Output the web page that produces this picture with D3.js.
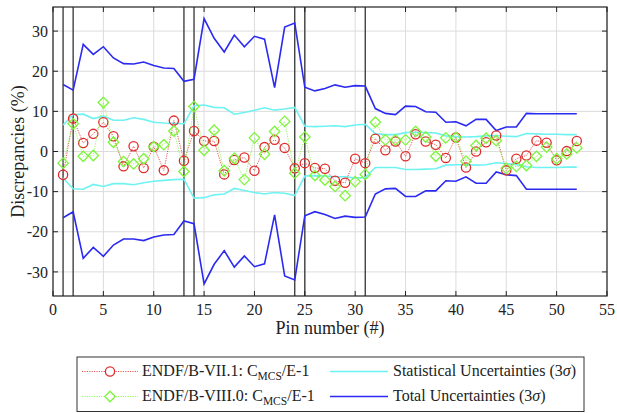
<!DOCTYPE html>
<meta charset="utf-8">
<head>
    <script src="https://d3js.org/d3.v7.min.js"></script>
    <style>
        body { margin: 0; background: #fff; }
        svg text { font-family: 'Liberation Serif', 'DejaVu Serif', 'Times New Roman', Times, serif; fill: #222; }
        .grid line { stroke: #dcdcdc; stroke-width: 1; }
    </style>
</head>
<body>
<div id="my_dataviz"></div>
<script>

    // pin numbers and section boundaries
    var pins = d3.range(1, 53);
    var sectionPins = [1, 2, 13, 14, 24, 25, 31];
    var xTicks = [0, 5, 10, 15, 20, 25, 30, 35, 40, 45, 50, 55];
    var yTicks = [-30, -20, -10, 0, 10, 20, 30];

    // ENDF/B-VII.1: C_MCS/E-1 (%)
    var endf71 = [-5.8, 8.2, 2.1, 4.4, 7.3, 3.8, -3.7, 1.3, -4.1, 1.2,
        -4.7, 7.7, -2.3, 5.1, 2.6, 2.6, -5.7, -2.1, -1.5, -4.8,
        1.1, 2.9, 0.9, -4.2, -2.9, -4.1, -4.3, -7.3, -7.8, -1.8,
        -2.9, 3.2, 0.3, 2.5, -1.2, 4.3, 2.5, 1.7, -1.6, 3.5,
        -4.0, 0.0, 2.3, 4.0, -4.7, -1.8, -1.0, 2.7, 2.2, -2.2,
        0.1, 2.6];

    // ENDF/B-VIII.0: C_MCS/E-1 (%)
    var endf80 = [-2.9, 6.9, -1.2, -1.0, 12.2, 2.3, -2.5, -3.1, -1.8, 1.2,
        1.7, 5.1, -5.0, 11.2, 0.3, 5.3, -4.8, -1.7, -7.0, 3.4,
        -0.7, 5.0, 7.5, -5.4, 3.6, -6.0, -7.1, -8.7, -11.0, -7.5,
        -5.7, 7.3, 2.9, 2.9, 2.9, 5.0, 3.6, -1.2, 3.4, 3.5,
        -2.4, 1.5, 3.3, 2.7, -4.2, -3.7, -3.5, -1.2, 1.1, -1.8,
        -0.6, 0.9];

    // statistical uncertainties (3 sigma), upper and lower
    var statUp = [6.6, 9.2, 9.3, 8.2, 8.8, 7.8, 7.8, 8.4, 8.0, 7.3,
        7.1, 7.0, 6.9, 11.4, 11.6, 11.0, 10.9, 9.3, 9.7, 10.3,
        10.9, 10.3, 10.6, 11.0, 6.3, 6.2, 6.3, 6.4, 6.2, 6.6,
        6.8, 4.4, 4.2, 4.2, 4.7, 4.8, 4.7, 4.6, 3.9, 3.7,
        3.6, 3.7, 3.9, 4.0, 3.8, 3.7, 4.5, 4.4, 4.3, 4.3,
        4.2, 4.2];
    var statLo = [-6.6, -9.3, -9.4, -8.2, -8.7, -8.0, -8.0, -8.3, -7.8, -7.4,
        -7.2, -7.0, -6.9, -11.6, -11.5, -10.8, -10.6, -9.2, -9.7, -10.2,
        -10.6, -10.2, -10.4, -11.0, -6.1, -6.0, -6.1, -6.3, -6.3, -6.6,
        -6.5, -4.0, -4.0, -4.0, -4.5, -4.5, -4.4, -4.3, -3.4, -3.3,
        -3.3, -3.4, -3.3, -2.8, -3.0, -3.3, -3.8, -4.0, -4.0, -4.0,
        -3.9, -3.9];

    // total uncertainties (3 sigma), upper and lower
    var totUp = [16.7, 15.3, 26.7, 24.2, 26.1, 23.3, 21.9, 21.8, 22.3, 21.4,
        20.8, 20.7, 17.5, 18.0, 33.1, 28.2, 24.8, 29.0, 26.1, 28.7,
        28.0, 15.9, 31.0, 32.0, 16.0, 15.1, 15.7, 16.6, 16.0, 16.4,
        16.3, 10.7, 9.5, 9.2, 11.3, 11.2, 9.9, 9.8, 7.3, 7.4,
        6.4, 8.0, 8.0, 5.2, 6.1, 6.1, 9.5, 9.4, 9.4, 9.4,
        9.4, 9.4];
    var totLo = [-16.5, -15.0, -26.6, -23.9, -26.1, -23.3, -21.8, -21.8, -22.2, -21.3,
        -20.8, -20.7, -17.3, -18.0, -33.0, -28.1, -24.7, -28.8, -26.0, -28.7,
        -28.0, -15.8, -31.0, -32.0, -16.0, -15.0, -15.7, -16.7, -16.1, -16.4,
        -16.3, -10.6, -9.3, -9.2, -11.2, -11.2, -9.8, -9.8, -7.3, -7.4,
        -6.3, -7.9, -7.9, -5.1, -5.8, -6.0, -9.4, -9.4, -9.4, -9.4,
        -9.4, -9.4];

    var W = 617, H = 413;
    var margin = { top: 7, right: 10, bottom: 117, left: 53 };
    var width = W - margin.left - margin.right;
    var height = H - margin.top - margin.bottom;
    var FONT = "'Liberation Serif', 'DejaVu Serif', 'Times New Roman', Times, serif";

    var RED = "#e02a2a", GREEN = "#7cf53a", CYAN = "#6ff2f2", BLUE = "#2a2af0";

    var root = d3.select("#my_dataviz").append("svg")
        .attr("width", W)
        .attr("height", H)
        .attr("font-family", FONT)
        .style("font-family", FONT);

    var svg = root.append("g")
        .attr("transform", "translate(" + margin.left + "," + margin.top + ")");

    var x = d3.scaleLinear().domain([0, 55]).range([0, width]);
    var y = d3.scaleLinear().domain([-36, 36]).range([height, 0]);

    // grid
    var grid = svg.append("g").attr("class", "grid");
    grid.selectAll(".gx").data(xTicks).enter().append("line")
        .attr("x1", function (d) { return x(d); })
        .attr("x2", function (d) { return x(d); })
        .attr("y1", 0).attr("y2", height);
    grid.selectAll(".gy").data(yTicks).enter().append("line")
        .attr("y1", function (d) { return y(d); })
        .attr("y2", function (d) { return y(d); })
        .attr("x1", 0).attr("x2", width);

    // section separators
    svg.selectAll(".sep").data(sectionPins).enter().append("line")
        .attr("x1", function (d) { return x(d); })
        .attr("x2", function (d) { return x(d); })
        .attr("y1", 0).attr("y2", height)
        .attr("stroke", "#333").attr("stroke-width", 1.3);

    function lineOf(vals) {
        return d3.line()
            .x(function (d, i) { return x(pins[i]); })
            .y(function (d) { return y(d); })(vals);
    }

    // uncertainty bands
    [statUp, statLo].forEach(function (s) {
        svg.append("path").attr("d", lineOf(s))
            .attr("fill", "none").attr("stroke", CYAN).attr("stroke-width", 1.6);
    });
    [totUp, totLo].forEach(function (s) {
        svg.append("path").attr("d", lineOf(s))
            .attr("fill", "none").attr("stroke", BLUE).attr("stroke-width", 1.6);
    });

    var diamond = d3.symbol().type(d3.symbolDiamond2).size(70);

    // ENDF/B-VII.1
    svg.append("path").attr("d", lineOf(endf71))
        .attr("fill", "none").attr("stroke", RED)
        .attr("stroke-width", 0.8).attr("stroke-dasharray", "1.2,1.2");
    svg.selectAll(".c71").data(endf71).enter().append("circle")
        .attr("cx", function (d, i) { return x(pins[i]); })
        .attr("cy", function (d) { return y(d); })
        .attr("r", 4.6)
        .attr("fill", "none").attr("stroke", RED).attr("stroke-width", 1.3);

    // ENDF/B-VIII.0
    svg.append("path").attr("d", lineOf(endf80))
        .attr("fill", "none").attr("stroke", GREEN)
        .attr("stroke-width", 0.8).attr("stroke-dasharray", "1.2,1.2");
    svg.selectAll(".d80").data(endf80).enter().append("path")
        .attr("d", diamond)
        .attr("transform", function (d, i) { return "translate(" + x(pins[i]) + "," + y(d) + ")"; })
        .attr("fill", "none").attr("stroke", GREEN).attr("stroke-width", 1.3);

    // box + inward ticks on all sides
    svg.append("rect").attr("width", width).attr("height", height)
        .attr("fill", "none").attr("stroke", "#222").attr("stroke-width", 1.2);

    var tk = 5;
    xTicks.forEach(function (t) {
        svg.append("line").attr("x1", x(t)).attr("x2", x(t)).attr("y1", height).attr("y2", height - tk).attr("stroke", "#222");
        svg.append("line").attr("x1", x(t)).attr("x2", x(t)).attr("y1", 0).attr("y2", tk).attr("stroke", "#222");
    });
    yTicks.forEach(function (t) {
        svg.append("line").attr("y1", y(t)).attr("y2", y(t)).attr("x1", 0).attr("x2", tk).attr("stroke", "#222");
        svg.append("line").attr("y1", y(t)).attr("y2", y(t)).attr("x1", width).attr("x2", width - tk).attr("stroke", "#222");
    });

    // tick labels
    svg.selectAll(".xl").data(xTicks).enter().append("text")
        .attr("x", function (d) { return x(d); })
        .attr("y", height + 19)
        .attr("text-anchor", "middle")
        .style("font-size", "16px")
        .text(function (d) { return d; });
    svg.selectAll(".yl").data(yTicks).enter().append("text")
        .attr("x", -5)
        .attr("y", function (d) { return y(d); })
        .attr("dy", "0.35em")
        .attr("text-anchor", "end")
        .style("font-size", "16px")
        .text(function (d) { return d; });

    // axis titles
    svg.append("text")
        .attr("x", width / 2).attr("y", height + 38)
        .attr("text-anchor", "middle")
        .style("font-size", "18px")
        .text("Pin number (#)");
    svg.append("text")
        .attr("transform", "translate(" + (-29) + "," + (height / 2) + ") rotate(-90)")
        .attr("text-anchor", "middle")
        .style("font-size", "18px")
        .text("Discrepancies (%)");

    // legend
    var lg = root.append("g");
    lg.append("rect").attr("x", 77).attr("y", 357).attr("width", 507).attr("height", 54.5)
        .attr("fill", "#fff").attr("stroke", "#333").attr("stroke-width", 1);

    var rows = [371.5, 396.5];
    var fs = "16px";

    function subLabel(g, xx, yy, pre) {
        var t = g.append("text").attr("x", xx).attr("y", yy).attr("dy", "0.3em").style("font-size", fs);
        t.append("tspan").text(pre + ": C");
        t.append("tspan").attr("dy", 4).style("font-size", "11.5px").text("MCS");
        t.append("tspan").attr("dy", -4).text("/E-1");
    }

    lg.append("line").attr("x1", 82).attr("x2", 138).attr("y1", rows[0]).attr("y2", rows[0])
        .attr("stroke", RED).attr("stroke-width", 0.8).attr("stroke-dasharray", "1.2,1.2");
    lg.append("circle").attr("cx", 110).attr("cy", rows[0]).attr("r", 4.6)
        .attr("fill", "#fff").attr("stroke", RED).attr("stroke-width", 1.3);
    subLabel(lg, 142, rows[0], "ENDF/B-VII.1");

    lg.append("line").attr("x1", 82).attr("x2", 138).attr("y1", rows[1]).attr("y2", rows[1])
        .attr("stroke", GREEN).attr("stroke-width", 0.8).attr("stroke-dasharray", "1.2,1.2");
    lg.append("path").attr("d", diamond).attr("transform", "translate(110," + rows[1] + ")")
        .attr("fill", "#fff").attr("stroke", GREEN).attr("stroke-width", 1.3);
    subLabel(lg, 142, rows[1], "ENDF/B-VIII.0");

    var c2 = 330;
    lg.append("line").attr("x1", c2).attr("x2", c2 + 58).attr("y1", rows[0]).attr("y2", rows[0])
        .attr("stroke", CYAN).attr("stroke-width", 1.6);
    lg.append("line").attr("x1", c2).attr("x2", c2 + 58).attr("y1", rows[1]).attr("y2", rows[1])
        .attr("stroke", BLUE).attr("stroke-width", 1.6);

    function sigmaLabel(g, xx, yy, pre) {
        var t = g.append("text").attr("x", xx).attr("y", yy).attr("dy", "0.3em").style("font-size", fs);
        t.append("tspan").text(pre + " (3");
        t.append("tspan").style("font-style", "italic").text("\u03c3");
        t.append("tspan").text(")");
    }
    sigmaLabel(lg, c2 + 63, rows[0], "Statistical Uncertainties");
    sigmaLabel(lg, c2 + 63, rows[1], "Total Uncertainties");

</script>
</body>
